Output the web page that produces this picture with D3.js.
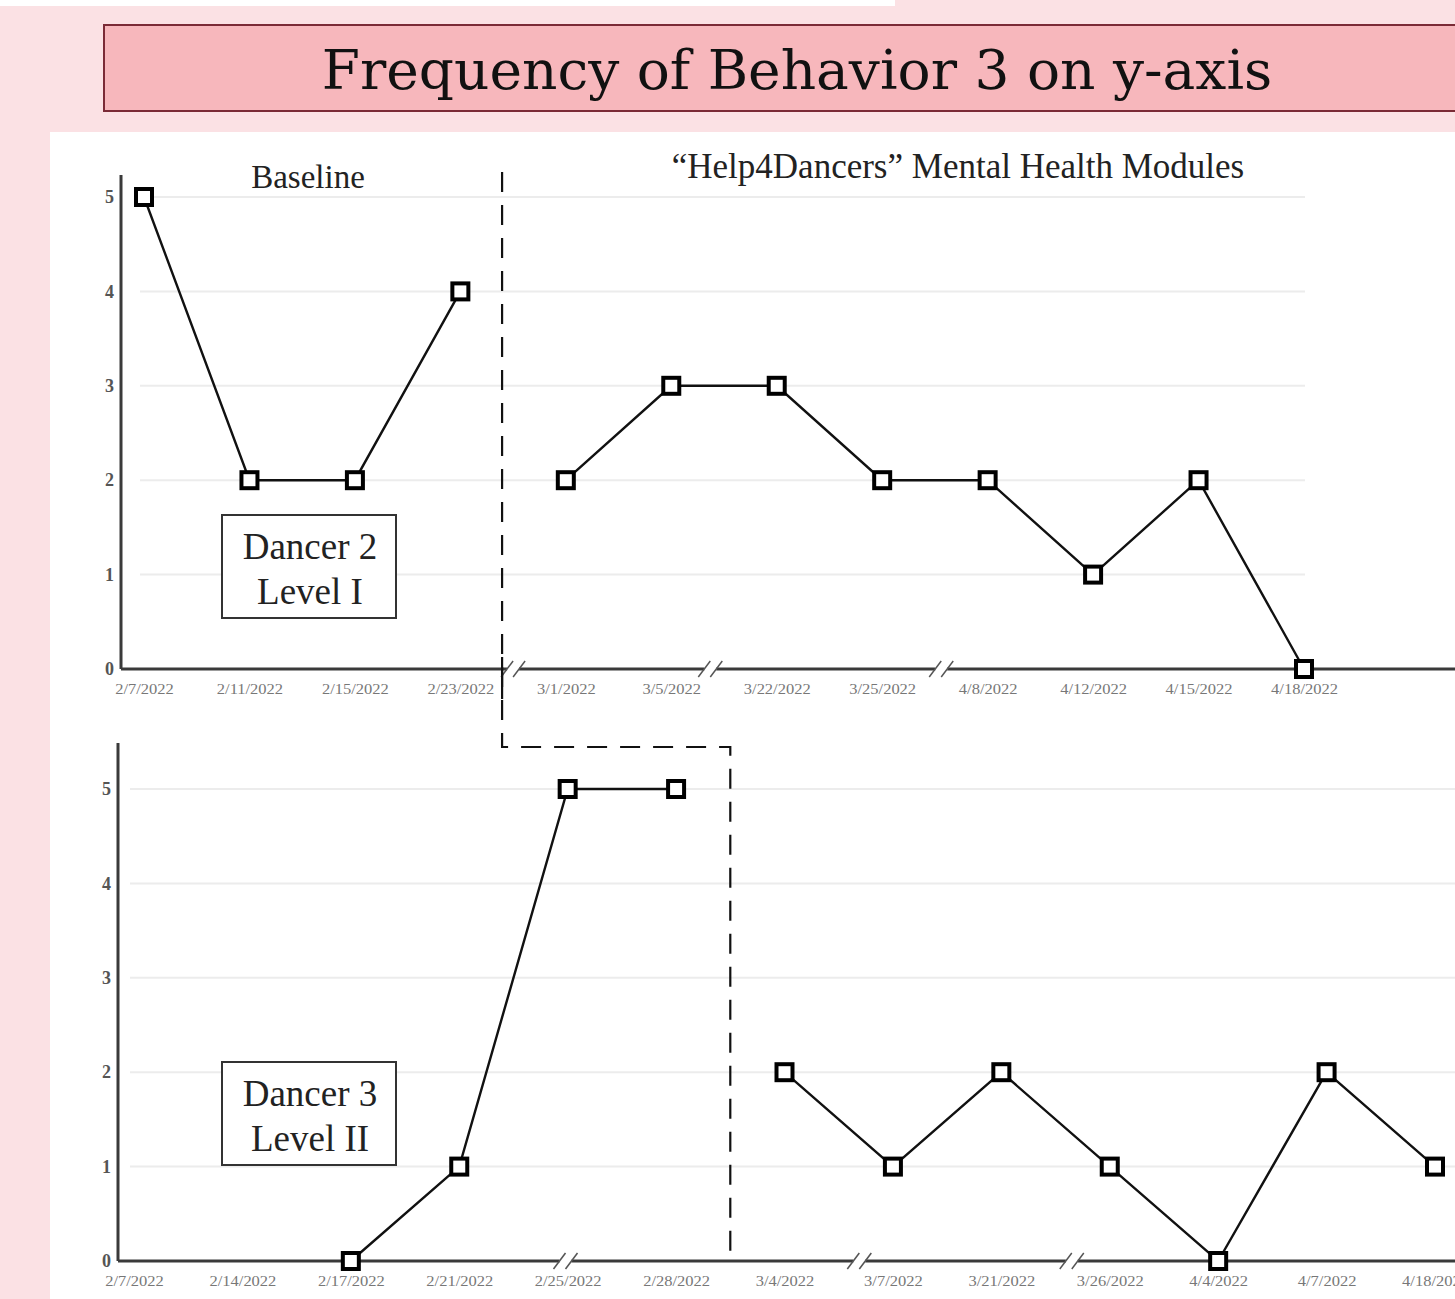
<!DOCTYPE html>
<html>
<head>
<meta charset="utf-8">
<script src="https://cdn.jsdelivr.net/npm/d3@7"></script>
<style>
  body { margin: 0; background: #fbe1e4; }
  svg { display: block; }
</style>
</head>
<body>
<svg class="chart"></svg>
<script>
//data
const yTicks = [0, 1, 2, 3, 4, 5]

const topDates = ["2/7/2022", "2/11/2022", "2/15/2022", "2/23/2022", "3/1/2022", "3/5/2022",
    "3/22/2022", "3/25/2022", "4/8/2022", "4/12/2022", "4/15/2022", "4/18/2022"]
const topBaseline = [5, 2, 2, 4]
const topModules = [2, 3, 3, 2, 2, 1, 2, 0]
const topBreaks = [3.5, 5.37, 7.56]

const bottomDates = ["2/7/2022", "2/14/2022", "2/17/2022", "2/21/2022", "2/25/2022", "2/28/2022",
    "3/4/2022", "3/7/2022", "3/21/2022", "3/26/2022", "4/4/2022", "4/7/2022", "4/18/2022"]
const bottomBaseline = [null, null, 0, 1, 5, 5]
const bottomModules = [2, 1, 2, 1, 0, 2, 1]
const bottomBreaks = [3.98, 6.69, 8.65]

//dimensions
const w = 1455
const h = 1299

const svg = d3.select('.chart')
    .attr('width', w)
    .attr('height', h)

// page background bits
svg.append('rect')
    .attr('x', 0).attr('y', 0)
    .attr('width', w).attr('height', h)
    .attr('fill', '#fbe1e4')
svg.append('rect')
    .attr('x', 0).attr('y', 0)
    .attr('width', 895).attr('height', 6)
    .attr('fill', '#ffffff')

//title banner
svg.append('rect')
    .attr('x', 104).attr('y', 25)
    .attr('width', 1370).attr('height', 86)
    .attr('fill', '#f7b7bc')
    .attr('stroke', '#7b2a36')
    .attr('stroke-width', 2)
svg.append('text')
    .attr('x', 797).attr('y', 89)
    .attr('text-anchor', 'middle')
    .style('font-family', '"DejaVu Serif", serif')
    .style('font-size', '55px')
    .attr('fill', '#111')
    .text('Frequency of Behavior 3 on y-axis')

//white plot sheet
svg.append('rect')
    .attr('x', 50).attr('y', 132)
    .attr('width', w - 50).attr('height', h - 132)
    .attr('fill', '#ffffff')

const serif = '"Liberation Serif", "Times New Roman", serif'

function drawPanel(p) {
    const g = svg.append('g')

    const xScale = d3.scalePoint()
        .domain(p.dates)
        .range(p.xRange)
    const yScale = d3.scaleLinear()
        .domain([0, 5])
        .range(p.yRange)
    const step = xScale.step()

    //grid
    g.selectAll('.grid')
        .data(yTicks.filter(d => d > 0))
        .join('line')
        .attr('x1', p.gridX[0]).attr('x2', p.gridX[1])
        .attr('y1', d => yScale(d)).attr('y2', d => yScale(d))
        .attr('stroke', '#ececec')
        .attr('stroke-width', 2)

    //y axis
    const yAxis = d3.axisLeft(yScale)
        .tickValues(yTicks)
        .tickSize(0)
        .tickPadding(7)
        .tickFormat(d3.format('d'))
    const ya = g.append('g')
        .attr('transform', `translate(${p.axisX}, 0)`)
        .call(yAxis)
    ya.select('.domain').remove()
    ya.selectAll('text')
        .style('font-family', serif)
        .style('font-size', '18px')
        .style('font-weight', 'bold')
        .attr('fill', '#555')
    g.append('line')
        .attr('x1', p.axisX).attr('x2', p.axisX)
        .attr('y1', p.axisTop).attr('y2', yScale(0))
        .attr('stroke', '#3a3a3a')
        .attr('stroke-width', 3)

    //x axis
    const xAxis = d3.axisBottom(xScale)
        .tickSize(0)
        .tickPadding(14)
    const xa = g.append('g')
        .attr('transform', `translate(0, ${yScale(0)})`)
        .call(xAxis)
    xa.select('.domain').remove()
    xa.selectAll('text')
        .style('font-family', serif)
        .style('font-size', '15px')
        .attr('fill', '#777')
        .attr('transform', 'scale(1.1, 1)')
    g.append('line')
        .attr('x1', p.axisX).attr('x2', w)
        .attr('y1', yScale(0)).attr('y2', yScale(0))
        .attr('stroke', '#3a3a3a')
        .attr('stroke-width', 3)

    //axis breaks
    p.breaks.forEach(b => {
        const i = Math.floor(b)
        const bx = xScale(p.dates[i]) + (b - i) * step
        const y0 = yScale(0)
        g.append('rect')
            .attr('x', bx - 6).attr('y', y0 - 3)
            .attr('width', 12).attr('height', 6)
            .attr('fill', '#fff')
        ;[-6, 6].forEach(dx => {
            g.append('line')
                .attr('x1', bx + dx - 6).attr('y1', y0 + 8)
                .attr('x2', bx + dx + 6).attr('y2', y0 - 8)
                .attr('stroke', '#555')
                .attr('stroke-width', 1.5)
        })
    })

    //series
    const line = d3.line()
        .defined(d => d.v !== null)
        .x(d => xScale(d.date))
        .y(d => yScale(d.v))
    const phases = [
        p.baseline.map((v, i) => ({ date: p.dates[i], v })),
        p.modules.map((v, i) => ({ date: p.dates[i + p.baseline.length], v }))
    ]
    phases.forEach(pts => {
        g.append('path')
            .attr('d', line(pts))
            .attr('fill', 'none')
            .attr('stroke', '#111')
            .attr('stroke-width', 2.4)
        g.selectAll(null)
            .data(pts.filter(d => d.v !== null))
            .join('rect')
            .attr('x', d => xScale(d.date) - 8)
            .attr('y', d => yScale(d.v) - 8)
            .attr('width', 16)
            .attr('height', 16)
            .attr('fill', '#fff')
            .attr('stroke', '#000')
            .attr('stroke-width', 4)
    })

    //participant label box
    g.append('rect')
        .attr('x', 222).attr('y', p.boxY)
        .attr('width', 174).attr('height', 103)
        .attr('fill', '#fff')
        .attr('stroke', '#333')
        .attr('stroke-width', 2)
    p.label.forEach((t, i) => {
        g.append('text')
            .attr('x', 310)
            .attr('y', p.boxY + 44 + i * 45)
            .attr('text-anchor', 'middle')
            .style('font-family', serif)
            .style('font-size', '37px')
            .attr('fill', '#222')
            .text(t)
    })

    return { xScale, yScale }
}

const topPanel = drawPanel({
    dates: topDates, baseline: topBaseline, modules: topModules, breaks: topBreaks,
    xRange: [144, 1304], yRange: [669, 197], gridX: [140, 1305],
    axisX: 121, axisTop: 175, boxY: 515, label: ['Dancer 2', 'Level I']
})
const bottomPanel = drawPanel({
    dates: bottomDates, baseline: bottomBaseline, modules: bottomModules, breaks: bottomBreaks,
    xRange: [134, 1435], yRange: [1261, 789], gridX: [130, w],
    axisX: 118, axisTop: 743, boxY: 1062, label: ['Dancer 3', 'Level II']
})

//phase labels
svg.append('text')
    .attr('x', 308).attr('y', 188)
    .attr('text-anchor', 'middle')
    .style('font-family', serif)
    .style('font-size', '33px')
    .attr('fill', '#222')
    .text('Baseline')
svg.append('text')
    .attr('x', 958).attr('y', 178)
    .attr('text-anchor', 'middle')
    .style('font-family', serif)
    .style('font-size', '35px')
    .attr('fill', '#222')
    .text('\u201CHelp4Dancers\u201D Mental Health Modules')

//phase change line (staggered)
const phaseX1 = (topPanel.xScale(topDates[3]) + topPanel.xScale(topDates[4])) / 2 - 11
const phaseX2 = (bottomPanel.xScale(bottomDates[5]) + bottomPanel.xScale(bottomDates[6])) / 2
svg.append('path')
    .attr('d', `M${phaseX1},172 V747 H${phaseX2} V${bottomPanel.yScale(0)}`)
    .attr('fill', 'none')
    .attr('stroke', '#111')
    .attr('stroke-width', 2.2)
    .attr('stroke-dasharray', '20,13')
svg.append('line')
    .attr('x1', phaseX1).attr('x2', phaseX1)
    .attr('y1', topPanel.yScale(0) - 12).attr('y2', topPanel.yScale(0) + 30)
    .attr('stroke', '#111')
    .attr('stroke-width', 2.2)
</script>
</body>
</html>
